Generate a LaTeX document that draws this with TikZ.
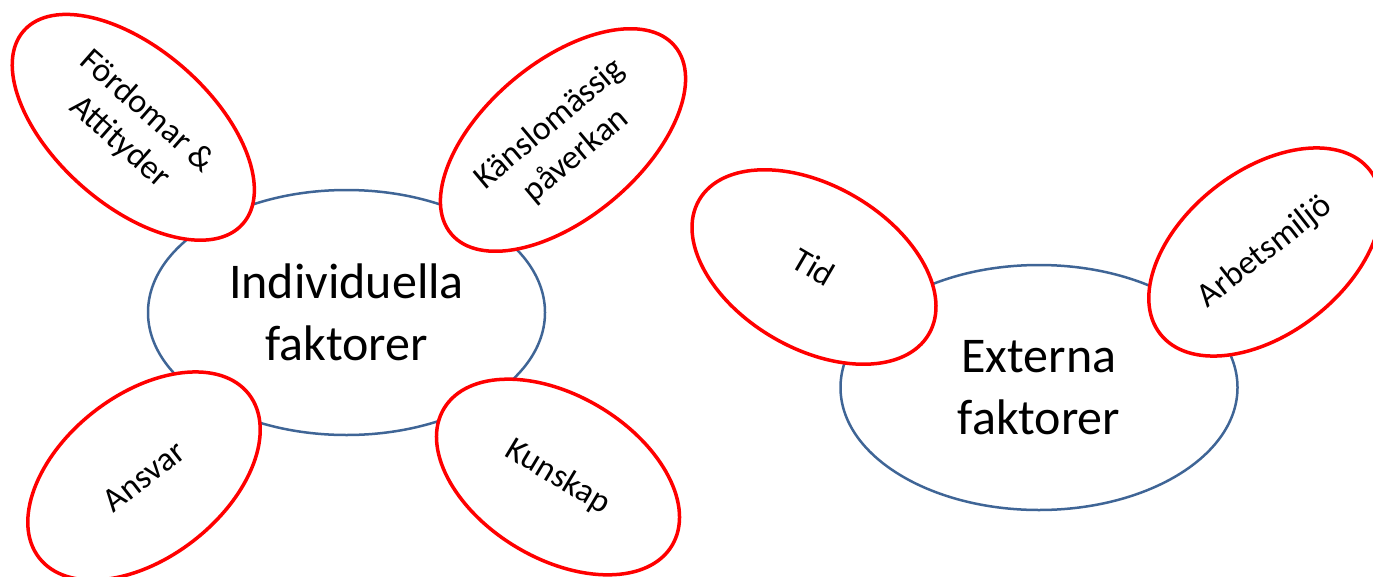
\documentclass[tikz,border=0pt]{standalone}
\usepackage{fontspec}
\setmainfont{Carlito}
\usetikzlibrary{shapes.geometric}
\definecolor{outlineblue}{HTML}{3F6596}
\begin{document}
\begin{tikzpicture}[x=1pt,y=-1pt,
  core/.style={ellipse, draw=outlineblue, line width=2.5pt, fill=white,
    minimum width=397pt, minimum height=245pt, inner sep=0pt, align=center,
    font=\fontsize{50}{62}\selectfont},
  factor/.style={ellipse, draw=red, line width=3.5pt, fill=white, inner sep=0pt,
    align=center, font=\fontsize{34}{41}\selectfont,
    minimum width=266pt, minimum height=163pt},
  bigfactor/.style={factor, minimum width=292pt, minimum height=156pt}]
\useasboundingbox (0,0) rectangle (1373,576);
\node[core] (ind) at (346.5,312.5) {Individuella\\faktorer};
\node[core] (ext) at (1039,387.5) {Externa\\faktorer};
\node[bigfactor, rotate=-41.4] (ford) at (133.3,127.3) {Fördomar \&\\Attityder};
\node[bigfactor, rotate=40] (kans) at (563,140) {Känslomässig\\påverkan};
\node[factor, rotate=38] (ansv) at (144,476) {Ansvar};
\node[factor, rotate=-31] (kun) at (558,477) {Kunskap};
\node[factor, rotate=-30.3] (tid) at (814,267) {Tid};
\node[factor, rotate=38] (arb) at (1265,252) {Arbetsmiljö};
\end{tikzpicture}
\end{document}
